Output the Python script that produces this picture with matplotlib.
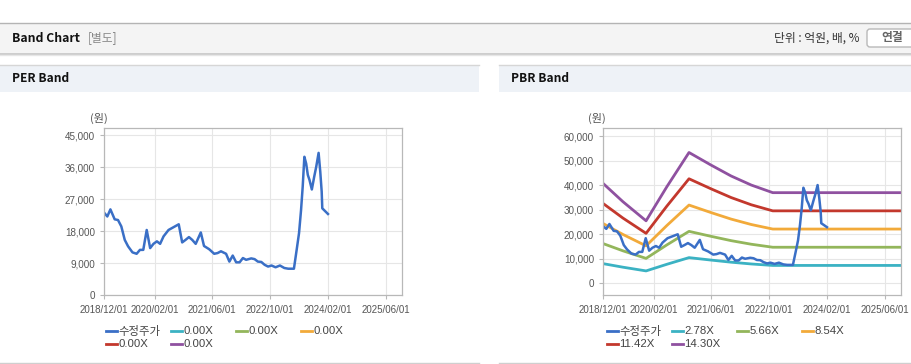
import pandas as pd
import matplotlib
matplotlib.use("Agg")
import matplotlib.pyplot as plt
from matplotlib.patches import Rectangle, FancyBboxPatch
from matplotlib.lines import Line2D

plt.rcParams['font.family'] = ['Noto Sans CJK KR', 'DejaVu Sans']
num_font = ['Liberation Sans', 'Noto Sans CJK KR']

# price series (수정주가)
price_dates = ['2018-12-01', '2018-12-29', '2019-01-24', '2019-03-01', '2019-03-29',
               '2019-04-26', '2019-05-25', '2019-06-22', '2019-07-29', '2019-09-02',
               '2019-09-30', '2019-10-28', '2019-11-26', '2019-12-25', '2020-01-22',
               '2020-02-20', '2020-03-18', '2020-04-16', '2020-05-28', '2020-07-10',
               '2020-08-22', '2020-09-20', '2020-10-18', '2020-11-16', '2020-12-14',
               '2021-01-12', '2021-02-24', '2021-03-23', '2021-05-05', '2021-06-17',
               '2021-07-15', '2021-08-13', '2021-09-25', '2021-10-23', '2021-11-20',
               '2021-12-19', '2022-01-17', '2022-02-14', '2022-03-13', '2022-04-25',
               '2022-05-23', '2022-06-20', '2022-07-19', '2022-08-16', '2022-09-14',
               '2022-10-13', '2022-11-16', '2022-12-23', '2023-01-29', '2023-03-03',
               '2023-04-20', '2023-05-13', '2023-06-02', '2023-06-19', '2023-07-03',
               '2023-07-17', '2023-08-01', '2023-08-15', '2023-08-29', '2023-09-18',
               '2023-10-08', '2023-10-25', '2023-11-14', '2023-11-28', '2023-12-10',
               '2023-12-15', '2024-01-05', '2024-02-01']
price = [23200, 22100, 24100, 21300, 21100, 19300, 15500, 13700, 12000, 11600,
         12700, 12700, 18300, 13200, 14400, 15100, 14400, 16500, 18300, 19100,
         19900, 14800, 15500, 16300, 15500, 14400, 17600, 13800, 12900, 11600,
         11800, 12300, 11600, 9400, 11100, 9200, 9200, 10400, 9900, 10300,
         10100, 9400, 9300, 8500, 8000, 8300, 7800, 8300, 7600, 7400,
         7400, 12700, 17400, 23900, 30500, 38900, 37000, 33800, 32400, 29700,
         33300, 36100, 40000, 34700, 29100, 24400, 23700, 22800]

# BPS path behind the PBR bands
bps_dates = ['2018-12-01', '2019-05-18', '2019-11-29', '2020-05-22', '2020-11-25',
             '2021-05-28', '2021-11-15', '2022-05-04', '2022-11-01', '2025-10-17']
bps = [2846, 2322, 1776, 2748, 3727, 3371, 3056, 2797, 2580, 2580]

pbr_mult = [2.78, 5.66, 8.54, 11.42, 14.30]
per_mult = [0.00, 0.00, 0.00, 0.00, 0.00]
band_colors = ['#3bb2c3', '#93b65b', '#f2aa3a', '#c3382d', '#8f51a0']
price_color = '#3a6fc6'

x_ticks = ['2018-12-01', '2020-02-01', '2021-06-01', '2022-10-01', '2024-02-01', '2025-06-01']
x_range = ['2018-12-01', '2025-10-17']

per_yticks = [0, 9000, 18000, 27000, 36000, 45000]
pbr_yticks = [0, 10000, 20000, 30000, 40000, 50000, 60000]

W, H = 912, 364
fig = plt.figure(figsize=(W / 100, H / 100), dpi=100)
fig.patch.set_facecolor('white')

# page decorations drawn in pixel space
bg = fig.add_axes([0, 0, 1, 1], zorder=-5)
bg.set_xlim(0, W)
bg.set_ylim(H, 0)
bg.axis('off')
bg.add_patch(Rectangle((0, 23), W, 30, fc='#f4f4f4', ec='none'))
bg.plot([0, W], [22.5, 22.5], color='#b4b4b4', lw=1)
bg.plot([0, W], [53.5, 53.5], color='#c4c4c4', lw=1.2)
bg.plot([0, W], [54.5, 54.5], color='#e6e6e6', lw=1)
for x0, x1 in [(0, 479), (499, W)]:
    bg.add_patch(Rectangle((x0, 65), x1 - x0, 27, fc='#eef2f7', ec='none'))
    bg.plot([x0, x1], [64.5, 64.5], color='#d6d6d6', lw=1)
    bg.plot([x0, x1], [362.5, 362.5], color='#cfcfcf', lw=1)
bg.text(12, 38, 'Band Chart', fontsize=8.8, fontweight='bold', va='center', color='#111')
bg.text(88, 38, '[별도]', fontsize=8.5, va='center', color='#888')
bg.text(860, 38, '단위 : 억원, 배, %', fontsize=8.5, va='center', ha='right', color='#333')
bg.add_patch(FancyBboxPatch((867, 29), 60, 18, boxstyle='round,pad=0,rounding_size=3',
                            fc='white', ec='#b9b9b9', lw=1))
bg.text(892, 38, '연결', fontsize=8.5, va='center', ha='center', color='#666', fontweight='bold')
bg.text(12, 79, 'PER Band', fontsize=8.6, fontweight='bold', va='center', color='#111')
bg.text(511, 79, 'PBR Band', fontsize=8.6, fontweight='bold', va='center', color='#111')

pdates = pd.to_datetime(price_dates)
bdates = pd.to_datetime(bps_dates)
xt = pd.to_datetime(x_ticks)
xr = pd.to_datetime(x_range)


def style_axes(ax, yticks, ylim):
    ax.set_xlim(xr[0], xr[1])
    ax.set_ylim(*ylim)
    ax.set_xticks(xt)
    ax.set_xticklabels([d.strftime('%Y/%m/%d') for d in xt], family=num_font, fontsize=7)
    ax.set_yticks(yticks)
    ax.set_yticklabels([f'{v:,}' for v in yticks], family=num_font, fontsize=7.1)
    ax.grid(True, color='#e6e6e6', lw=0.8)
    ax.set_axisbelow(True)
    for s in ax.spines.values():
        s.set_color('#b8b8b8')
        s.set_linewidth(0.9)
    ax.tick_params(axis='both', colors='#b8b8b8', labelcolor='#555', length=3, width=0.8)
    ax.tick_params(axis='x', pad=4)


def legend(x0, labels):
    cols = [x0 + 65 * i for i in range(4)]
    colors = [price_color] + band_colors
    for i, (lab, c) in enumerate(zip(labels, colors)):
        x = cols[i % 4]
        y = 331 if i < 4 else 344
        bg.add_line(Line2D([x, x + 11], [y, y], color=c, lw=2))
        bg.text(x + 12.5, y, lab, fontsize=8.2, family=num_font, va='center', color='#444')


# PER panel
ax1 = fig.add_axes([104 / W, (H - 295) / H, 298 / W, 167 / H])
style_axes(ax1, per_yticks, (0, 47000))
ax1.plot(pdates, price, color=price_color, lw=1.8)
bg.text(99, 118, '(원)', fontsize=8, ha='center', va='center', color='#555')
legend(106, ['수정주가'] + [f'{m:.2f}X' for m in per_mult])

# PBR panel
ax2 = fig.add_axes([603 / W, (H - 295) / H, 298 / W, 167 / H])
style_axes(ax2, pbr_yticks, (-4900, 63300))
for m, c in zip(pbr_mult, band_colors):
    ax2.plot(bdates, [b * m for b in bps], color=c, lw=2)
ax2.plot(pdates, price, color=price_color, lw=1.8)
bg.text(597, 118, '(원)', fontsize=8, ha='center', va='center', color='#555')
legend(607, ['수정주가'] + [f'{m:.2f}X' for m in pbr_mult])

fig.savefig('out.png', dpi=100)
